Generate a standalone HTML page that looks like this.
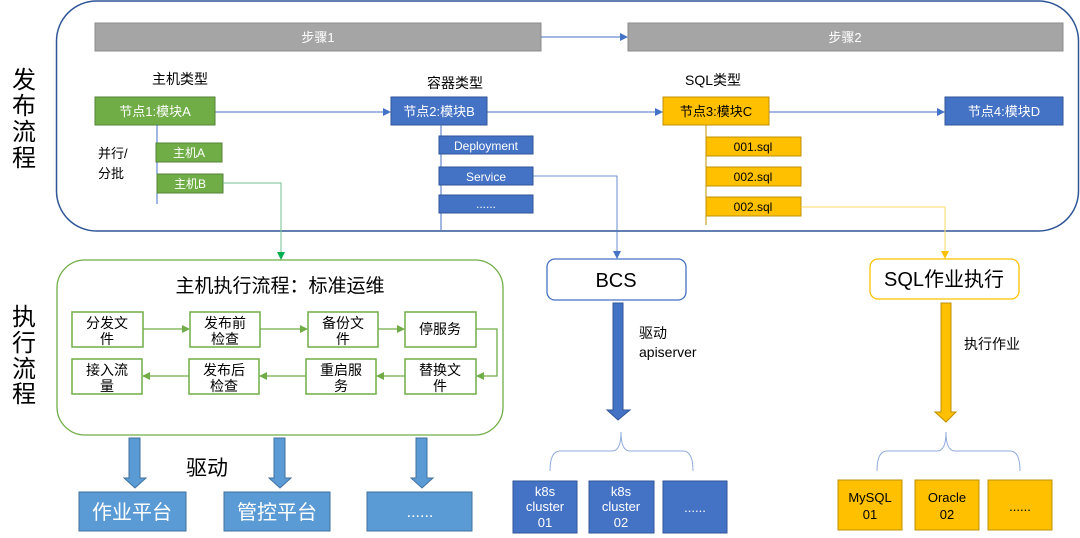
<!DOCTYPE html>
<html><head><meta charset="utf-8"><style>
html,body{margin:0;padding:0;background:#fff;width:1080px;height:538px;overflow:hidden}
svg{display:block;font-family:"Liberation Sans","Noto Sans CJK SC",sans-serif}
</style></head><body>
<svg width="1080" height="538" viewBox="0 0 1080 538" xmlns="http://www.w3.org/2000/svg">
<defs>
<marker id="ab" markerWidth="8" markerHeight="8" refX="7" refY="4" orient="auto" markerUnits="userSpaceOnUse"><path d="M0,0 L8,4 L0,8 z" fill="#4472c4"/></marker>
<marker id="ag" markerWidth="8" markerHeight="8" refX="7" refY="4" orient="auto" markerUnits="userSpaceOnUse"><path d="M0,0 L8,4 L0,8 z" fill="#70ad47"/></marker>
<marker id="ag2" markerWidth="8" markerHeight="8" refX="7" refY="4" orient="auto" markerUnits="userSpaceOnUse"><path d="M0,0 L8,4 L0,8 z" fill="#00b050"/></marker>
<marker id="ay" markerWidth="8" markerHeight="8" refX="7" refY="4" orient="auto" markerUnits="userSpaceOnUse"><path d="M0,0 L8,4 L0,8 z" fill="#ffc000"/></marker>
</defs>

<rect x="56.5" y="1" width="1022" height="230" rx="40" fill="none" stroke="#2f5597" stroke-width="1.5"/>
<text x="24" y="88" font-size="24" text-anchor="middle">发</text>
<text x="24" y="114" font-size="24" text-anchor="middle">布</text>
<text x="24" y="140" font-size="24" text-anchor="middle">流</text>
<text x="24" y="166" font-size="24" text-anchor="middle">程</text>

<rect x="95" y="23" width="446" height="28" fill="#a5a5a5" stroke="#8c8c8c"/>
<text x="318" y="42" font-size="13" fill="#fff" text-anchor="middle">步骤1</text>
<rect x="628" y="23" width="435" height="28" fill="#a5a5a5" stroke="#8c8c8c"/>
<text x="845" y="42" font-size="13" fill="#fff" text-anchor="middle">步骤2</text>
<line x1="541" y1="37" x2="627" y2="37" stroke="#4472c4" marker-end="url(#ab)"/>

<text x="180" y="84" font-size="14" text-anchor="middle">主机类型</text>
<text x="455" y="88" font-size="14" text-anchor="middle">容器类型</text>
<text x="713" y="85" font-size="14" text-anchor="middle">SQL类型</text>

<line x1="215" y1="112" x2="390" y2="112" stroke="#4472c4" marker-end="url(#ab)"/>
<line x1="487" y1="112" x2="662" y2="112" stroke="#4472c4" marker-end="url(#ab)"/>
<line x1="769" y1="112" x2="944" y2="112" stroke="#4472c4" marker-end="url(#ab)"/>

<rect x="95" y="97" width="120" height="28" fill="#70ad47" stroke="#548235"/>
<text x="155" y="116" font-size="13" fill="#fff" text-anchor="middle">节点1:模块A</text>
<rect x="391" y="97" width="96" height="28" fill="#4472c4" stroke="#2f5597"/>
<text x="439" y="116" font-size="13" fill="#fff" text-anchor="middle">节点2:模块B</text>
<rect x="663" y="97" width="106" height="28" fill="#ffc000" stroke="#bf9000"/>
<text x="716" y="116" font-size="13" fill="#000" text-anchor="middle">节点3:模块C</text>
<rect x="945" y="97" width="118" height="28" fill="#4472c4" stroke="#2f5597"/>
<text x="1004" y="116" font-size="13" fill="#fff" text-anchor="middle">节点4:模块D</text>

<line x1="157" y1="125" x2="157" y2="204" stroke="#4472c4"/>
<text x="98" y="158" font-size="13">并行/</text>
<text x="98" y="178" font-size="13">分批</text>
<rect x="156" y="143" width="66" height="19" fill="#70ad47" stroke="#548235"/>
<text x="189" y="157" font-size="12" fill="#fff" text-anchor="middle">主机A</text>
<rect x="157" y="174" width="66" height="19" fill="#70ad47" stroke="#548235"/>
<text x="190" y="188" font-size="12" fill="#fff" text-anchor="middle">主机B</text>
<polyline points="223,183 281,183 281,259" fill="none" stroke="#70c090" marker-end="url(#ag2)"/>

<line x1="441" y1="125" x2="441" y2="230" stroke="#4472c4"/>
<rect x="439" y="136" width="94" height="18" fill="#4472c4" stroke="#2f5597"/>
<text x="486" y="150" font-size="12" fill="#fff" text-anchor="middle">Deployment</text>
<rect x="439" y="167" width="94" height="18" fill="#4472c4" stroke="#2f5597"/>
<text x="486" y="181" font-size="12" fill="#fff" text-anchor="middle">Service</text>
<rect x="439" y="195" width="94" height="18" fill="#4472c4" stroke="#2f5597"/>
<text x="486" y="208" font-size="12" fill="#fff" text-anchor="middle">......</text>
<polyline points="533,176 617,176 617,258" fill="none" stroke="#4472c4" stroke-width="0.8" marker-end="url(#ab)"/>

<line x1="706" y1="125" x2="706" y2="225" stroke="#bf9000"/>
<rect x="706" y="137" width="95" height="19" fill="#ffc000" stroke="#bf9000"/>
<text x="753" y="151" font-size="12" text-anchor="middle">001.sql</text>
<rect x="706" y="167" width="95" height="19" fill="#ffc000" stroke="#bf9000"/>
<text x="753" y="181" font-size="12" text-anchor="middle">002.sql</text>
<rect x="706" y="197" width="95" height="19" fill="#ffc000" stroke="#bf9000"/>
<text x="753" y="211" font-size="12" text-anchor="middle">002.sql</text>
<polyline points="801,207 945,207 945,258" fill="none" stroke="#ffd966" marker-end="url(#ay)"/>

<text x="24" y="325" font-size="24" text-anchor="middle">执</text>
<text x="24" y="351" font-size="24" text-anchor="middle">行</text>
<text x="24" y="377" font-size="24" text-anchor="middle">流</text>
<text x="24" y="402" font-size="24" text-anchor="middle">程</text>

<rect x="57" y="260" width="446" height="175" rx="28" fill="none" stroke="#70ad47" stroke-width="1.3"/>
<text x="280" y="292" font-size="19" text-anchor="middle">主机执行流程：标准运维</text>

<g fill="#fff" stroke="#70ad47" stroke-width="1.5">
<rect x="72" y="312" width="71" height="35"/><rect x="190" y="312" width="70" height="35"/>
<rect x="308" y="312" width="70" height="35"/><rect x="405" y="312" width="71" height="35"/>
<rect x="72" y="359" width="70" height="35"/><rect x="189" y="359" width="70" height="35"/>
<rect x="306" y="359" width="70" height="35"/><rect x="405" y="359" width="71" height="35"/>
</g>
<g font-size="14" text-anchor="middle">
<text x="107" y="328">分发文</text><text x="107" y="344">件</text>
<text x="225" y="328">发布前</text><text x="225" y="344">检查</text>
<text x="343" y="328">备份文</text><text x="343" y="344">件</text>
<text x="440" y="334">停服务</text>
<text x="440" y="375">替换文</text><text x="440" y="391">件</text>
<text x="341" y="375">重启服</text><text x="341" y="391">务</text>
<text x="224" y="375">发布后</text><text x="224" y="391">检查</text>
<text x="107" y="375">接入流</text><text x="107" y="391">量</text>
</g>
<g stroke="#70ad47" stroke-width="1.3" fill="none">
<line x1="143" y1="329" x2="189" y2="329" marker-end="url(#ag)"/>
<line x1="260" y1="329" x2="307" y2="329" marker-end="url(#ag)"/>
<line x1="378" y1="329" x2="404" y2="329" marker-end="url(#ag)"/>
<polyline points="476,329 497,329 497,376 477,376" marker-end="url(#ag)"/>
<line x1="405" y1="376" x2="377" y2="376" marker-end="url(#ag)"/>
<line x1="306" y1="376" x2="260" y2="376" marker-end="url(#ag)"/>
<line x1="189" y1="376" x2="143" y2="376" marker-end="url(#ag)"/>
</g>

<g fill="#5b9bd5" stroke="#41719c" stroke-width="1">
<path d="M129,438 H140 V478 H146 L135,488 L124,478 H129 Z"/>
<path d="M274,438 H285 V478 H291 L280,488 L269,478 H274 Z"/>
<path d="M416,438 H427 V478 H433 L422,488 L411,478 H416 Z"/>
</g>
<text x="207" y="475" font-size="21" text-anchor="middle">驱动</text>
<g fill="#5b9bd5" stroke="#41719c">
<rect x="79" y="492" width="107" height="39"/>
<rect x="224" y="492" width="106" height="39"/>
<rect x="367" y="492" width="105" height="39"/>
</g>
<text x="132" y="519" font-size="20" fill="#fff" text-anchor="middle">作业平台</text>
<text x="277" y="519" font-size="20" fill="#fff" text-anchor="middle">管控平台</text>
<text x="420" y="517" font-size="16" fill="#fff" text-anchor="middle">......</text>

<rect x="547" y="259" width="139" height="41" rx="8" fill="#fff" stroke="#4472c4" stroke-width="1.3"/>
<text x="616" y="287" font-size="20" text-anchor="middle">BCS</text>
<path d="M613,303 H623 V410 H630 L618,420 L607,410 H613 Z" fill="#4472c4" stroke="#2f5597"/>
<text x="639" y="338" font-size="14">驱动</text>
<text x="639" y="357" font-size="14">apiserver</text>
<path d="M550,471 Q550,451 560,451 H612 Q621,451 621,432 Q621,451 630,451 H683 Q693,451 693,471" fill="none" stroke="#8faadc"/>
<g fill="#4472c4" stroke="#2f5597">
<rect x="513" y="481" width="64" height="52"/>
<rect x="589" y="481" width="65" height="52"/>
<rect x="663" y="481" width="64" height="52"/>
</g>
<g font-size="13" fill="#fff" text-anchor="middle">
<text x="545" y="496">k8s</text><text x="545" y="511">cluster</text><text x="545" y="527">01</text>
<text x="621" y="496">k8s</text><text x="621" y="511">cluster</text><text x="621" y="527">02</text>
<text x="695" y="512">......</text>
</g>

<rect x="870" y="259" width="149" height="40" rx="8" fill="#fff" stroke="#ffc000" stroke-width="1.3"/>
<text x="944" y="286" font-size="20" text-anchor="middle">SQL作业执行</text>
<path d="M941,303 H951 V412 H956 L946,422 L935,412 H941 Z" fill="#ffc000" stroke="#bf9000"/>
<text x="964" y="349" font-size="14">执行作业</text>
<path d="M877,471 Q877,451 887,451 H937 Q946,451 946,432 Q946,451 955,451 H1010 Q1020,451 1020,471" fill="none" stroke="#8faadc"/>
<g fill="#ffc000" stroke="#bf9000">
<rect x="838" y="480" width="64" height="50"/>
<rect x="915" y="480" width="64" height="50"/>
<rect x="988" y="480" width="64" height="50"/>
</g>
<g font-size="13" fill="#000" text-anchor="middle">
<text x="870" y="502">MySQL</text><text x="870" y="519">01</text>
<text x="947" y="502">Oracle</text><text x="947" y="519">02</text>
<text x="1020" y="511">......</text>
</g>
</svg>
</body></html>
